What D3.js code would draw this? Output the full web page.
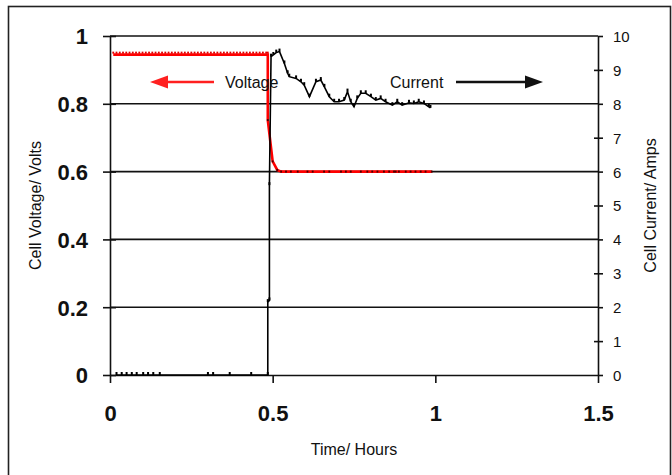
<!DOCTYPE html>
<html>
<head>
<meta charset="utf-8">
<script src="https://cdn.jsdelivr.net/npm/d3@7"></script>
<style>
  html, body { margin: 0; padding: 0; background: #fff; }
  svg { display: block; font-family: "Liberation Sans", Arial, sans-serif; }
</style>
</head>
<body>
<svg id="chart" width="672" height="475"></svg>
<script>
// Time axis (hours)
const timeTicks = [0, 0.5, 1, 1.5];
const timeTickLabels = ["0", "0.5", "1", "1.5"];

// Left axis: cell voltage (V)
const voltTicks = [0, 0.2, 0.4, 0.6, 0.8, 1];
const voltTickLabels = ["0", "0.2", "0.4", "0.6", "0.8", "1"];

// Right axis: cell current (A)
const ampTicks = [0, 1, 2, 3, 4, 5, 6, 7, 8, 9, 10];
const ampTickLabels = ["0", "1", "2", "3", "4", "5", "6", "7", "8", "9", "10"];

// Cell voltage record
const voltHours = [
  0.010, 0.020, 0.030, 0.040, 0.050, 0.060, 0.070, 0.080, 0.090, 0.100,
  0.110, 0.120, 0.130, 0.140, 0.150, 0.160, 0.170, 0.180, 0.190, 0.200,
  0.210, 0.220, 0.230, 0.240, 0.250, 0.260, 0.270, 0.280, 0.290, 0.300,
  0.310, 0.320, 0.330, 0.340, 0.350, 0.360, 0.370, 0.380, 0.390, 0.400,
  0.410, 0.420, 0.430, 0.440, 0.450, 0.460, 0.470, 0.480, 0.485,
  0.485, 0.500, 0.514, 0.526, 0.541, 0.556, 0.577, 0.607, 0.623, 0.658,
  0.674, 0.710, 0.725, 0.740, 0.771, 0.791, 0.806, 0.822, 0.842, 0.858,
  0.873, 0.878, 0.888, 0.909, 0.924, 0.939, 0.955, 0.970, 0.989
];
const voltValues = [
  0.945, 0.945, 0.945, 0.945, 0.945, 0.945, 0.945, 0.945, 0.945, 0.945,
  0.945, 0.945, 0.945, 0.945, 0.945, 0.945, 0.945, 0.945, 0.945, 0.945,
  0.945, 0.945, 0.945, 0.945, 0.945, 0.945, 0.945, 0.945, 0.945, 0.945,
  0.945, 0.945, 0.945, 0.945, 0.945, 0.945, 0.945, 0.945, 0.945, 0.945,
  0.945, 0.945, 0.945, 0.945, 0.945, 0.945, 0.945, 0.945, 0.945,
  0.752, 0.630, 0.605, 0.600, 0.600, 0.600, 0.600, 0.600, 0.600, 0.600,
  0.600, 0.600, 0.600, 0.600, 0.600, 0.600, 0.600, 0.600, 0.600, 0.600,
  0.600, 0.600, 0.600, 0.600, 0.600, 0.600, 0.600, 0.600, 0.600
];

// Cell current record
const ampHours = [
  0.020, 0.036, 0.051, 0.067, 0.082, 0.102, 0.117, 0.133, 0.153, 0.301,
  0.317, 0.368, 0.434,
  0.485, 0.485, 0.490, 0.490, 0.495, 0.502, 0.511, 0.521, 0.536, 0.546,
  0.551, 0.572, 0.587, 0.597, 0.613, 0.633, 0.648, 0.659, 0.674, 0.689,
  0.704, 0.720, 0.730, 0.740, 0.750, 0.760, 0.771, 0.786, 0.802, 0.817,
  0.832, 0.847, 0.868, 0.883, 0.898, 0.919, 0.934, 0.949, 0.965, 0.980,
  0.985
];
const ampValues = [
  0, 0, 0, 0, 0, 0, 0, 0, 0, 0,
  0, 0, 0,
  0, 2.15, 2.2, 5.6, 9.39, 9.44, 9.51, 9.54, 9.19, 8.9, 8.8,
  8.75, 8.65, 8.55, 8.21, 8.65, 8.7, 8.5, 8.21, 8.06, 8.06,
  8.11, 8.36, 8.06, 7.91, 8.16, 8.31, 8.31, 8.21, 8.11, 8.16,
  8.06, 7.96, 8.06, 7.96, 8.03, 8.01, 8.06, 8.01, 7.91, 7.88
];

const voltage = voltHours.map((t, i) => ({ t, v: voltValues[i] }));
const current = ampHours.map((t, i) => ({ t, v: ampValues[i] }));

const svg = d3.select("#chart");
const plotLeft = 110, plotRight = 598, plotTop = 36, plotBottom = 375;
const ink = "#111";

const x = d3.scaleLinear().domain([0, 1.5]).range([plotLeft, plotRight]);
const yV = d3.scaleLinear().domain([0, 1]).range([plotBottom, plotTop]);
const yA = d3.scaleLinear().domain([0, 10]).range([plotBottom, plotTop]);

// outer frame
svg.append("rect")
  .attr("x", 8.5).attr("y", 6.5).attr("width", 662).attr("height", 520)
  .attr("fill", "none").attr("stroke", "#222").attr("stroke-width", 1.6);

// horizontal gridlines at each voltage tick
svg.append("g").selectAll("line")
  .data(voltTicks.filter(d => d > 0))
  .join("line")
  .attr("x1", plotLeft).attr("x2", plotRight)
  .attr("y1", d => yV(d)).attr("y2", d => yV(d))
  .attr("stroke", ink).attr("stroke-width", 1.6);

// left axis
const gL = svg.append("g").attr("transform", `translate(${plotLeft},0)`)
  .call(d3.axisLeft(yV).tickValues(voltTicks)
    .tickFormat((d, i) => voltTickLabels[i]).tickSizeOuter(0).tickPadding(16));
gL.select(".domain").attr("stroke", ink).attr("stroke-width", 1.6);
gL.selectAll(".tick line").attr("x1", -7).attr("x2", 6).attr("stroke", ink).attr("stroke-width", 1.6);
gL.selectAll(".tick text").attr("font-size", 22).attr("font-weight", "bold")
  .attr("font-family", "'Liberation Sans', Arial, sans-serif").attr("fill", ink).attr("dy", "0.36em");

// right axis
const gR = svg.append("g").attr("transform", `translate(${plotRight},0)`)
  .call(d3.axisRight(yA).tickValues(ampTicks)
    .tickFormat((d, i) => ampTickLabels[i]).tickSizeOuter(0).tickPadding(9));
gR.select(".domain").attr("stroke", ink).attr("stroke-width", 1.6);
gR.selectAll(".tick line").attr("x1", d => d % 2 ? -4 : 0).attr("x2", 5)
  .attr("stroke", ink).attr("stroke-width", 1.6);
gR.selectAll(".tick text").attr("font-size", 15)
  .attr("font-family", "'Liberation Sans', Arial, sans-serif").attr("fill", ink).attr("dy", "0.36em");

// bottom axis
const gB = svg.append("g").attr("transform", `translate(0,${plotBottom})`)
  .call(d3.axisBottom(x).tickValues(timeTicks)
    .tickFormat((d, i) => timeTickLabels[i]).tickSizeOuter(0).tickSizeInner(8).tickPadding(22));
gB.select(".domain").attr("stroke", ink).attr("stroke-width", 1.6);
gB.selectAll(".tick line").attr("stroke", ink).attr("stroke-width", 1.6);
gB.selectAll(".tick text").attr("font-size", 22).attr("font-weight", "bold")
  .attr("font-family", "'Liberation Sans', Arial, sans-serif").attr("fill", ink);

// axis titles
svg.append("text").attr("transform", `translate(41,${(plotTop + plotBottom) / 2}) rotate(-90)`)
  .attr("text-anchor", "middle").attr("font-size", 16).attr("fill", ink)
  .text("Cell Voltage/ Volts");
svg.append("text").attr("transform", `translate(656,${(plotTop + plotBottom) / 2}) rotate(-90)`)
  .attr("text-anchor", "middle").attr("font-size", 16).attr("fill", ink)
  .text("Cell Current/ Amps");
svg.append("text").attr("x", (plotLeft + plotRight) / 2).attr("y", 455)
  .attr("text-anchor", "middle").attr("font-size", 16).attr("fill", ink)
  .text("Time/ Hours");

// voltage trace
const lineV = d3.line().x(d => x(d.t)).y(d => yV(d.v));
svg.append("path").datum(voltage)
  .attr("d", lineV).attr("fill", "none")
  .attr("stroke", "#ff0000").attr("stroke-width", 2.6);
svg.append("g").selectAll("rect")
  .data(voltage)
  .join("rect")
  .attr("x", d => x(d.t) - 0.9).attr("width", 1.8)
  .attr("y", d => yV(d.v) - (d.v > 0.9 ? 3 : 1)).attr("height", 2)
  .attr("fill", d => d.v > 0.9 ? "#e00000" : "#4a0000");

// current trace
const lineA = d3.line().x(d => x(d.t)).y(d => yA(d.v));
svg.append("path").datum(current)
  .attr("d", lineA).attr("fill", "none")
  .attr("stroke", "#000").attr("stroke-width", 1.6);
svg.append("g").selectAll("rect")
  .data(current)
  .join("rect")
  .attr("x", d => x(d.t) - 1).attr("width", 2)
  .attr("y", d => yA(d.v) - 3).attr("height", 3)
  .attr("fill", "#000");

// series annotations with arrows
const ay = 82;
svg.append("line").attr("x1", 166).attr("x2", 214).attr("y1", ay).attr("y2", ay)
  .attr("stroke", "#ff2020").attr("stroke-width", 2.6);
svg.append("path").attr("d", `M150,${ay} L168,${ay - 6.5} L168,${ay + 6.5} Z`).attr("fill", "#ff2020");
svg.append("text").attr("x", 225).attr("y", ay + 6).attr("font-size", 16).attr("fill", ink)
  .text("Voltage");

svg.append("text").attr("x", 390).attr("y", ay + 6).attr("font-size", 16).attr("fill", ink)
  .text("Current");
svg.append("line").attr("x1", 456).attr("x2", 528).attr("y1", ay).attr("y2", ay)
  .attr("stroke", "#111").attr("stroke-width", 2.6);
svg.append("path").attr("d", `M543,${ay} L525,${ay - 6.5} L525,${ay + 6.5} Z`).attr("fill", "#111");
</script>
</body>
</html>
